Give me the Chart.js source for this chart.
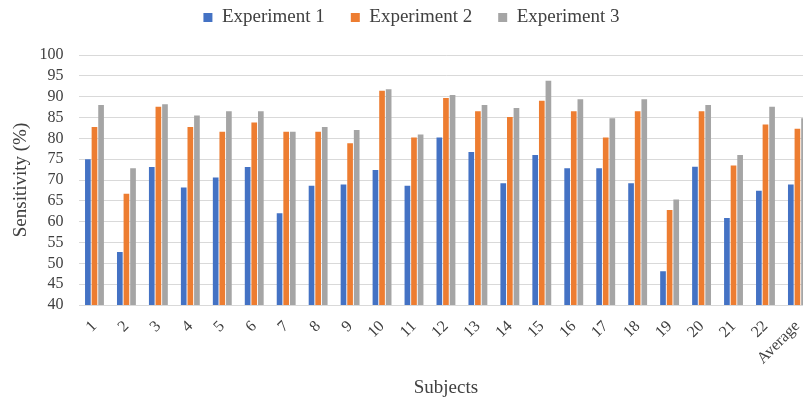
<!DOCTYPE html>
<html>
<head>
<meta charset="utf-8">
<script src="https://cdn.jsdelivr.net/npm/chart.js@4/dist/chart.umd.min.js"></script>
<style>
  html, body { margin: 0; padding: 0; background: #fff; overflow: hidden; }
  #wrap { width: 815px; height: 403px; position: relative; }
</style>
</head>
<body>
<div id="wrap"><canvas id="c"></canvas></div>
<script>
// Subjects on the category axis
const subjects = ['1','2','3','4','5','6','7','8','9','10','11','12','13','14','15','16','17','18','19','20','21','22','Average'];

// Sensitivity (%) per subject for each experiment
const experiment1 = [75.0, 52.7, 73.1, 68.2, 70.6, 73.1, 62.0, 68.6, 68.9, 72.4, 68.6, 80.2, 76.7, 69.2, 76.0, 72.8, 72.8, 69.2, 48.1, 73.2, 60.9, 67.4, 68.9];
const experiment2 = [82.7, 66.7, 87.6, 82.7, 81.6, 83.8, 81.6, 81.6, 78.8, 91.4, 80.2, 89.7, 86.5, 85.1, 89.0, 86.5, 80.2, 86.5, 62.8, 86.5, 73.5, 83.3, 82.3];
const experiment3 = [88.0, 72.8, 88.2, 85.5, 86.5, 86.5, 81.6, 82.7, 82.0, 91.8, 80.9, 90.4, 88.0, 87.3, 93.8, 89.4, 84.8, 89.4, 65.3, 88.0, 76.0, 87.6, 84.8];

// Value axis ticks
const yMin = 40, yMax = 100, yStep = 5;

const serif = "'Liberation Serif', 'Times New Roman', serif";
const textColor = '#404040';

// Adds extra space below the legend row so the plot starts lower
const LEGEND_GAP = 18;
const legendGap = {
  id: 'legendGap',
  beforeLayout(chart) {
    const lg = chart.legend;
    if (lg && !lg.__gapAdded) {
      const fit = lg.fit;
      lg.fit = function () {
        fit.call(this);
        this.height += LEGEND_GAP;
      };
      lg.__gapAdded = true;
    }
  }
};

new Chart(document.getElementById('c'), {
  type: 'bar',
  plugins: [legendGap],
  data: {
    labels: subjects,
    datasets: [
      { label: 'Experiment 1', data: experiment1, backgroundColor: '#4472C4' },
      { label: 'Experiment 2', data: experiment2, backgroundColor: '#ED7D31' },
      { label: 'Experiment 3', data: experiment3, backgroundColor: '#A5A5A5' }
    ]
  },
  options: {
    responsive: true,
    maintainAspectRatio: false,
    devicePixelRatio: 1,
    animation: false,
    categoryPercentage: 0.62,
    barPercentage: 0.86,
    layout: { padding: { left: 8, right: 0, top: -18, bottom: 4 } },
    plugins: {
      tooltip: { enabled: false },
      legend: {
        position: 'top',
        align: 'center',
        labels: {
          boxWidth: 9,
          boxHeight: 9,
          padding: 26,
          color: textColor,
          font: { family: serif, size: 19 }
        }
      }
    },
    scales: {
      x: {
        grid: { display: false },
        border: { display: false },
        ticks: {
          color: textColor,
          font: { family: serif, size: 16 },
          minRotation: 45,
          maxRotation: 45,
          autoSkip: false,
          padding: 4
        },
        title: {
          display: true,
          text: 'Subjects',
          color: textColor,
          font: { family: serif, size: 19 },
          padding: { top: 10, bottom: 0 }
        },
        afterFit: (s) => { s.height = 94; }
      },
      y: {
        min: yMin,
        max: yMax,
        grid: { color: '#d9d9d9', lineWidth: 1, drawTicks: false },
        border: { display: false },
        ticks: {
          stepSize: yStep,
          autoSkip: false,
          maxTicksLimit: 20,
          color: textColor,
          font: { family: serif, size: 16 },
          padding: 15
        },
        title: {
          display: true,
          text: 'Sensitivity (%)',
          color: textColor,
          font: { family: serif, size: 19 },
          padding: { top: 2, bottom: 0 }
        },
        afterFit: (s) => { s.width = 70.5; }
      }
    }
  }
});
</script>
</body>
</html>
